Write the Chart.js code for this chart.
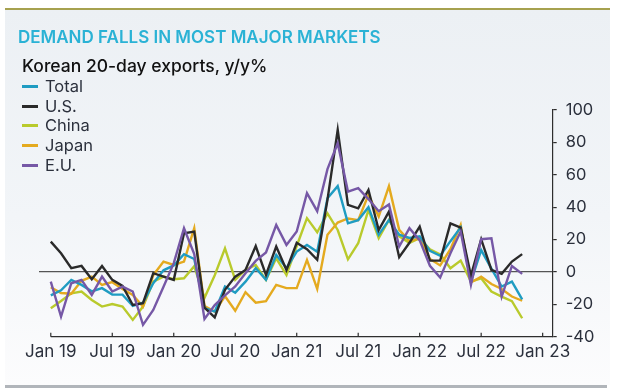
<!DOCTYPE html>
<html><head><meta charset="utf-8">
<script src="https://cdn.jsdelivr.net/npm/chart.js@4.4.0/dist/chart.umd.min.js"></script>
<style>
html,body{margin:0;padding:0;background:#fff;}
#wrap{position:relative;width:617px;height:392px;overflow:hidden;font-family:Inter,"Noto Sans",sans-serif;}
#panel{position:absolute;left:5px;top:10px;width:605px;height:375px;background:linear-gradient(180deg,#ecf0f4 0%,#f2f5f8 55%,#fcfcfd 100%);}
#topline{position:absolute;left:5px;top:8px;width:605px;height:2px;background:#a6a14f;}
#botline{position:absolute;left:5px;top:385px;width:602px;height:3px;background:#b1b5ba;}
.t{position:absolute;white-space:nowrap;line-height:20px;}
#title{left:18px;top:27px;font-size:17px;font-weight:600;color:#2ab2d5;}
#sub{left:22px;top:56px;font-size:17.5px;font-weight:500;color:#111;}
.lg{position:absolute;left:22px;white-space:nowrap;font-size:16.5px;color:#2b303c;line-height:20px;}
.lg span{display:inline-block;width:16px;height:3px;vertical-align:middle;margin-right:7px;position:relative;top:-1px;}
canvas{position:absolute;left:0;top:0;}
</style></head>
<body>
<div id="wrap">
<div id="panel"></div>
<div id="topline"></div>
<div id="botline"></div>
<canvas id="c" width="617" height="392"></canvas>
<div class="t" id="title">DEMAND FALLS IN MOST MAJOR MARKETS</div>
<div class="t" id="sub">Korean 20-day exports, y/y%</div>
<div id="legend"></div>
</div>
<script>
// months from Jan 2019 (index 0) to Nov 2022 (index 46)
const monthIndex = Array.from({length:47},(_,i)=>i);
const tickLabels = ["Jan 19","Jul 19","Jan 20","Jul 20","Jan 21","Jul 21","Jan 22","Jul 22","Jan 23"];
const total = [-14.5,-11.3,-4.9,-8,-12,-10,-14,-14,-21,-19,-7,1,4,11,8,-22.4,-24.5,-9,-12.8,-6,2.3,-4.9,10.5,2.3,12.6,16.7,12.5,45.5,53,30,32,40,23,32,23,21,22,13,10,19,27.5,-6,13.5,2,-9,-6,-17];
const us = [18.7,11.5,2.3,3.7,-4.5,3.7,-4.9,-8.6,-20.4,-19.3,-0.8,-2.9,-4.9,23.9,24.9,-22,-28,-11,-2.9,1.2,16,-1.9,15.7,1.2,18,14,7.5,44.5,87.7,41.4,39.3,50.6,25.9,37.2,9.1,18,28,7,7,30,27.4,-2.3,20.2,1.2,-1.2,6.4,11];
const china = [-22.4,-18,-13.2,-12.1,-17.3,-21.4,-19.8,-21.4,-29.6,-21.4,-6,-2.9,-4.5,-3.9,3.5,-16,-2,14.6,-4.9,1.2,4.3,-4.9,8.4,-1.9,16,33.2,24.5,36.2,25.9,7.8,17.7,38.3,20.8,32.1,22,18,20.8,14,10.8,2.3,7,-6,-3.9,-12.1,-15.2,-18,-28.6];
const japan = [-9.5,-13,-13.5,-5.5,-2.9,-8,-6.3,-10.5,-14.2,-21.4,-2,6.4,4.3,6.4,27,-21,-24.5,-15,-24,-12.5,-19,-18,-8,-10,-10,7.4,-10.5,23,30.5,33,32,47.6,34.2,53,26,19,20.8,8,4,14,29,-6.5,-2.9,-7.5,-10.5,-15.2,-17.8];
const eu = [-6,-27.6,-7,-4.9,-14.2,-2.9,-12.1,-9.1,-12.1,-32.7,-23.5,-9.1,5.4,27,11,-29,-20.5,-14.5,-9,-0.8,6.8,12,29,16.7,25,48.6,37.5,63.5,79.5,49.6,51.7,45,37.5,41.7,15.7,27,19.5,3.8,-3.5,11.5,24.9,-8,20.2,20.8,-15.2,3.7,-1.2];
const seriesNames = ["Total","U.S.","China","Japan","E.U."];
const seriesColors = ["#1f9cc2","#2a2a2a","#b9ca2c","#e4aa1f","#7658a6"];
const seriesData = [total,us,china,japan,eu];
const drawOrder = [3,2,5,4,1];

const leg = document.getElementById('legend');
seriesNames.forEach((n,i)=>{
  const d=document.createElement('div');
  d.className='lg';
  d.style.top=(76+i*19.7)+'px';
  d.innerHTML='<span style="background:'+seriesColors[i]+'"></span>'+n;
  leg.appendChild(d);
});

const AX='#2e2e2e';
const xAxisLine={
  id:'xAxisLine',
  afterDatasetsDraw(chart){
    const {ctx,chartArea,scales:{x}}=chart;
    ctx.save();
    ctx.strokeStyle=AX;ctx.lineWidth=1.2;
    ctx.beginPath();
    const y=chartArea.bottom;
    ctx.moveTo(x.getPixelForValue(0),y);ctx.lineTo(chartArea.right,y);
    for(let v=0;v<=48;v+=6){const px=x.getPixelForValue(v);ctx.moveTo(px,y);ctx.lineTo(px,y-4);}
    ctx.stroke();ctx.restore();
  }
};

new Chart(document.getElementById('c'),{
  type:'line',
  data:{labels:monthIndex,datasets:seriesNames.map((n,i)=>({
    label:n,data:seriesData[i].map((v,k)=>({x:monthIndex[k],y:v})),
    borderColor:seriesColors[i],borderWidth:2.4,pointRadius:0,tension:0,fill:false,order:drawOrder[i]
  }))},
  options:{
    responsive:false,animation:false,
    layout:{padding:{left:39,top:110,right:0,bottom:0}},
    plugins:{legend:{display:false},tooltip:{enabled:false}},
    scales:{
      x:{type:'linear',min:-1.15,max:48.98,
        afterBuildTicks(s){s.ticks=tickLabels.map((_,i)=>({value:i*6}));},
        afterFit(s){s.height=392-336.7;},
        grid:{display:false,drawTicks:false},border:{display:false},
        ticks:{autoSkip:false,maxRotation:0,padding:5,color:'#2b303c',font:{family:'Inter',size:17},
          callback:(v)=>tickLabels[Math.round(v/6)]}
      },
      y:{position:'right',min:-40,max:100,
        afterFit(s){s.width=617-552.7;},
        grid:{color:(c)=>c.tick&&c.tick.value===0?'#555':'rgba(0,0,0,0)',lineWidth:1.2,tickColor:AX,tickLength:4,drawTicks:true},
        border:{display:true,color:AX,width:1.2},
        ticks:{stepSize:20,padding:9,color:'#2b303c',font:{family:'Inter',size:16.5}}
      }
    }
  },
  plugins:[xAxisLine]
});
</script>
</body></html>
